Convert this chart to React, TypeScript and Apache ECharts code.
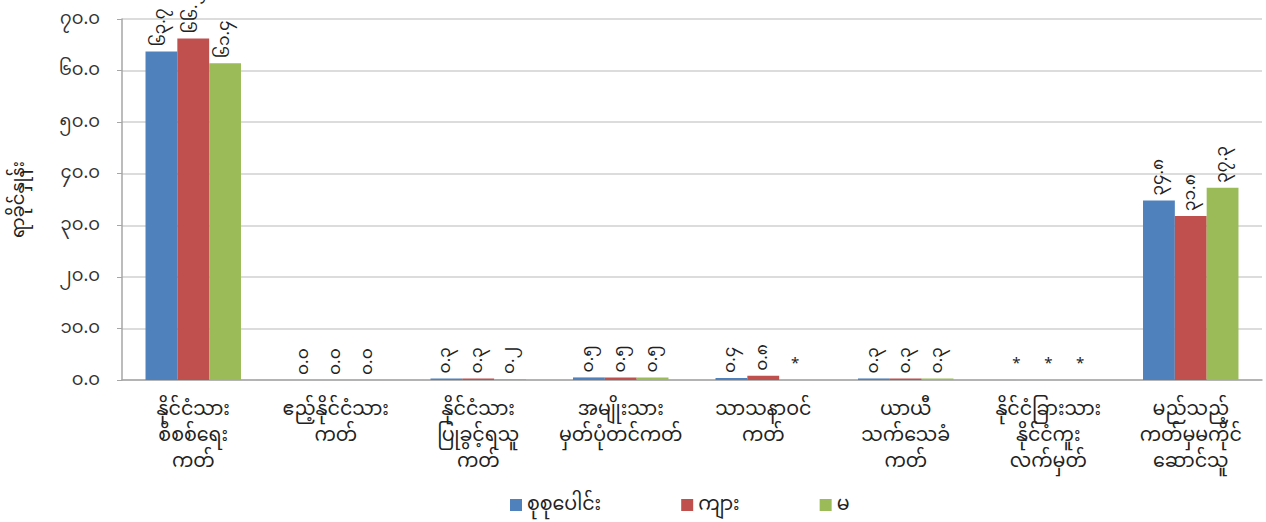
import React, { useEffect, useRef } from "react";
import * as echarts from "echarts";

const categories = [
  "နိုင်ငံသား\nစိစစ်ရေး\nကတ်",
  "ဧည့်နိုင်ငံသား\nကတ်",
  "နိုင်ငံသား\nပြုခွင့်ရသူ\nကတ်",
  "အမျိုးသား\nမှတ်ပုံတင်ကတ်",
  "သာသနာဝင်\nကတ်",
  "ယာယီ\nသက်သေခံ\nကတ်",
  "နိုင်ငံခြားသား\nနိုင်ငံကူး\nလက်မှတ်",
  "မည်သည့်\nကတ်မှမကိုင်\nဆောင်သူ",
];

const seriesNames = ["စုစုပေါင်း", "ကျား", "မ"];
// null = reported as "*"
const totalValues: (number | null)[] = [63.7, 0.0, 0.3, 0.5, 0.4, 0.3, null, 34.8];
const maleValues: (number | null)[] = [66.2, 0.0, 0.3, 0.5, 0.8, 0.3, null, 31.8];
const femaleValues: (number | null)[] = [61.4, 0.0, 0.2, 0.5, null, 0.3, null, 37.3];
const colors = ["#4f81bd", "#c0504d", "#9bbb59"];

const yTickMax = 70;
const yTickInterval = 10;
const yAxisTitle = "ရာခိုင်နှုန်း";

const FONT = "'Noto Sans Myanmar', 'Myanmar Text', 'Padauk', 'Noto Sans', sans-serif";

const toMM = (s: string) => s.replace(/\d/g, (d) => String.fromCharCode(0x1040 + Number(d)));

export default function App() {
  const ref = useRef<HTMLDivElement>(null);
  useEffect(() => {
    if (!ref.current) return;
    const chart = echarts.init(ref.current, null, { renderer: "svg" });
    const all = [totalValues, maleValues, femaleValues];
    chart.setOption({
      animation: false,
      textStyle: { fontFamily: FONT },
      grid: { left: 122, right: 4, top: 19, bottom: 142 },
      legend: {
        top: 493,
        left: 510,
        itemWidth: 12,
        itemHeight: 12,
        itemGap: 80,
        padding: 0,
        icon: "rect",
        textStyle: { fontSize: 19, lineHeight: 24, color: "#222", fontFamily: FONT },
        data: seriesNames,
      },
      xAxis: {
        type: "category",
        data: categories,
        axisLine: { lineStyle: { color: "#a6a6a6", width: 1.5 } },
        axisTick: { show: false },
        axisLabel: {
          interval: 0,
          fontSize: 19,
          lineHeight: 26,
          margin: 17,
          color: "#222",
          fontFamily: FONT,
        },
      },
      yAxis: {
        type: "value",
        min: 0,
        max: yTickMax,
        interval: yTickInterval,
        name: yAxisTitle,
        nameLocation: "middle",
        nameGap: 94,
        nameRotate: 90,
        nameTextStyle: { fontSize: 18, color: "#222", fontFamily: FONT },
        axisLine: { show: true, lineStyle: { color: "#a6a6a6", width: 1.5 } },
        axisTick: { show: true, length: 5, lineStyle: { color: "#a6a6a6" } },
        splitLine: { lineStyle: { color: "#d0d0d0", width: 1.5 } },
        axisLabel: {
          fontSize: 18,
          color: "#333",
          margin: 22,
          fontFamily: FONT,
          formatter: (v: number) => toMM(v.toFixed(1)),
        },
      },
      series: seriesNames.map((name, si) => ({
        name,
        type: "bar",
        barGap: "0%",
        barCategoryGap: "33%",
        itemStyle: { color: colors[si] },
        label: {
          show: true,
          position: "top",
          rotate: 90,
          align: "left",
          verticalAlign: "middle",
          distance: 5,
          fontSize: 17,
          color: "#222",
          fontFamily: FONT,
          formatter: (p: any) => toMM(Number(p.value).toFixed(1)),
        },
        data: all[si].map((v) =>
          v === null
            ? {
                value: 0,
                label: {
                  show: true,
                  rotate: 0,
                  align: "center",
                  verticalAlign: "bottom",
                  distance: 8,
                  fontSize: 15,
                  formatter: "*",
                },
              }
            : { value: v }
        ),
      })),
    });
    return () => chart.dispose();
  }, []);
  return (
    <div
      ref={ref}
      style={{ position: "fixed", left: 0, top: 0, width: 1266, height: 522, background: "#fff" }}
    />
  );
}
